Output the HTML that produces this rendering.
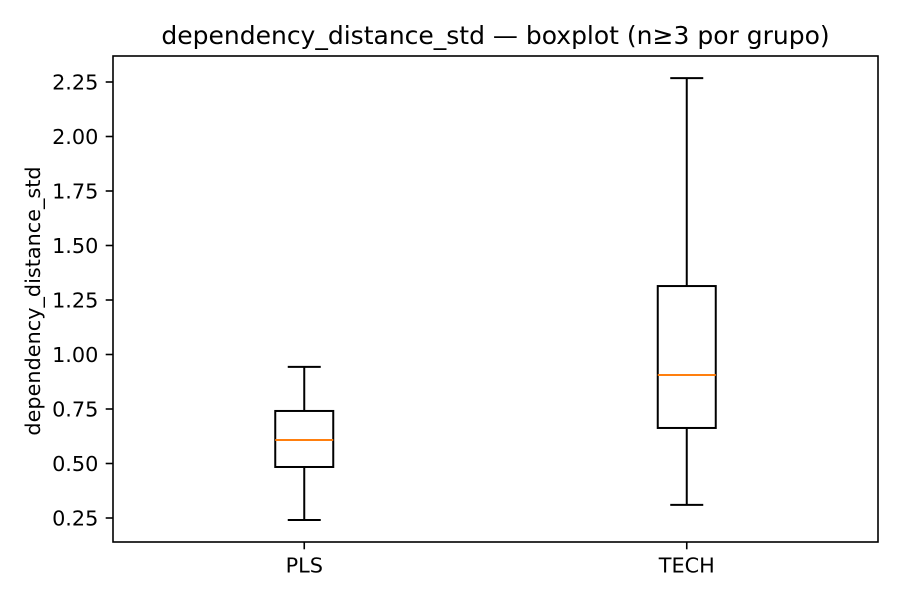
<!DOCTYPE html>
<html><head><meta charset="utf-8"><style>
body{margin:0;background:#fff;}
svg{display:block;font-family:"DejaVu Sans","Liberation Sans",sans-serif;}
</style></head><body>
<svg id="chart" width="900" height="600" viewBox="0 0 900 600">
<rect width="900" height="600" fill="#fff"/>
<text x="495.5" y="44" font-size="25" text-anchor="middle">dependency_distance_std — boxplot (n≥3 por grupo)</text>
<text transform="translate(40,301) rotate(-90)" font-size="20.8" text-anchor="middle">dependency_distance_std</text>
<g id="plot"></g>
<rect x="113" y="56" width="765" height="486" fill="none" stroke="#000" stroke-width="1.6"/>
</svg>
<script>
const categories = ["PLS", "TECH"];
const whiskerLow = [0.241, 0.310];
const q1Values = [0.484, 0.663];
const medians = [0.608, 0.906];
const q3Values = [0.741, 1.314];
const whiskerHigh = [0.943, 2.268];
const yTicks = [0.25, 0.50, 0.75, 1.00, 1.25, 1.50, 1.75, 2.00, 2.25];

const L=113,R=878,T=56,B=542;
function xScale(i){return L+(i+0.5)/2*(R-L);}
function yScale(v){return 518-(v-0.25)*218;}
const NS="http://www.w3.org/2000/svg";
const g=document.getElementById('plot');
function mk(tag,attrs){const e=document.createElementNS(NS,tag);for(const k in attrs)e.setAttribute(k,attrs[k]);g.appendChild(e);return e;}

yTicks.forEach(t=>{
  const y=yScale(t);
  const tk=mk('line',{x1:L-7.3,x2:L,y1:y,y2:y,stroke:'#000','stroke-width':1.6});
  
  
  const tx=mk('text',{x:L-14.6,y:y+7.3,'font-size':'20.8','text-anchor':'end'});
  tx.textContent=t.toFixed(2);
  
  
});

categories.forEach((c,i)=>{
  const x=xScale(i),hw=29,cw=16.5;
  const tk=mk('line',{x1:x,x2:x,y1:B,y2:B+7.3,stroke:'#000','stroke-width':1.6});
  
  
  const tx=mk('text',{x:x,y:B+30.5,'font-size':'20.8','text-anchor':'middle'});
  tx.textContent=c;
  
  
  const w1=mk('line',{x1:x,x2:x,y1:yScale(whiskerLow[i]),y2:yScale(q1Values[i]),stroke:'#000','stroke-width':2});
  
  
  const w2=mk('line',{x1:x,x2:x,y1:yScale(q3Values[i]),y2:yScale(whiskerHigh[i]),stroke:'#000','stroke-width':2});
  
  
  const c1=mk('line',{x1:x-cw,x2:x+cw,y1:yScale(whiskerLow[i]),y2:yScale(whiskerLow[i]),stroke:'#000','stroke-width':2});
  
  
  const c2=mk('line',{x1:x-cw,x2:x+cw,y1:yScale(whiskerHigh[i]),y2:yScale(whiskerHigh[i]),stroke:'#000','stroke-width':2});
  
  
  const bx=mk('rect',{x:x-hw,y:yScale(q3Values[i]),width:2*hw,height:yScale(q1Values[i])-yScale(q3Values[i]),fill:'none',stroke:'#000','stroke-width':2});
  
  
  const md=mk('line',{x1:x-hw,x2:x+hw,y1:yScale(medians[i]),y2:yScale(medians[i]),stroke:'#ff7f0e','stroke-width':2});
  
  
});
</script>
</body></html>
